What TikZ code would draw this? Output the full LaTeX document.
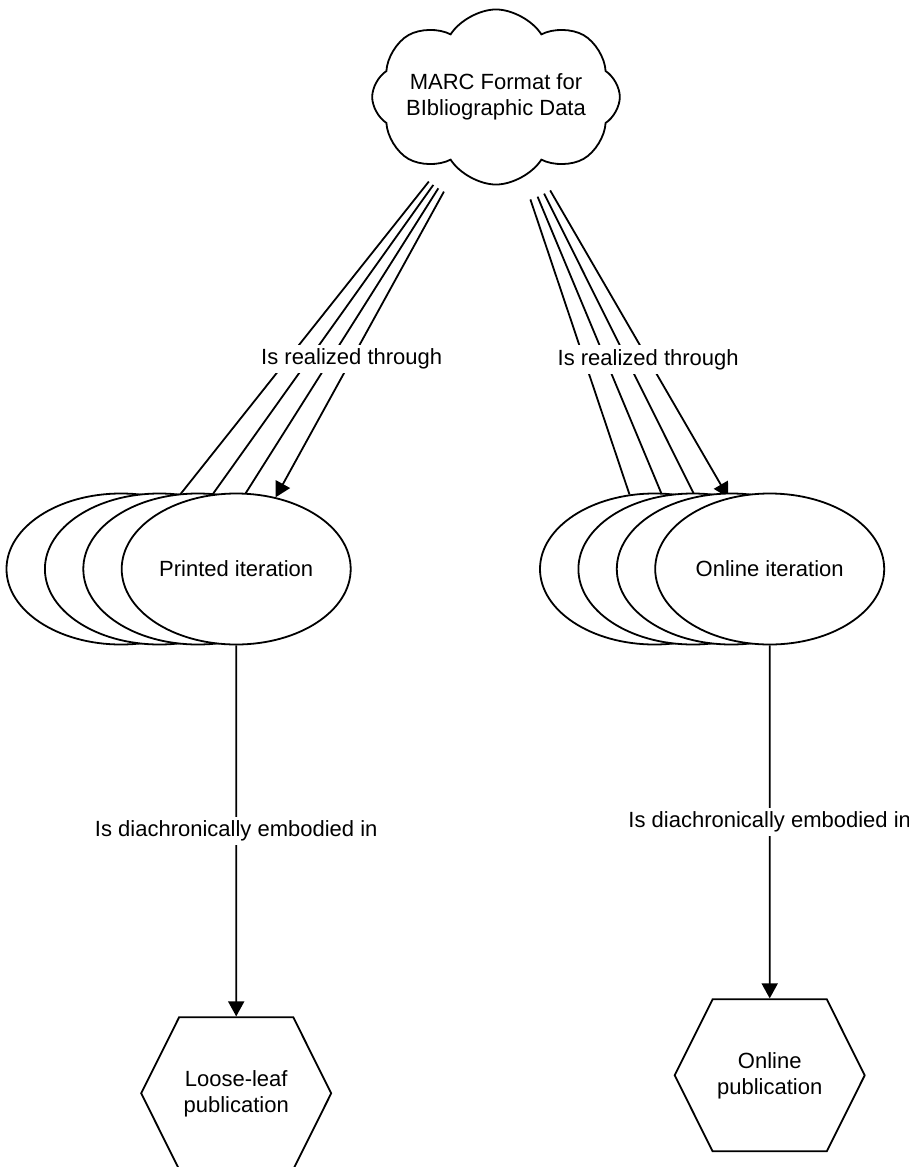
\documentclass[tikz,border=0pt]{standalone}
\usepackage{fontspec}
\setmainfont{Liberation Sans}
\usetikzlibrary{arrows.meta,positioning,shapes.geometric,shapes.symbols,backgrounds}

\begin{document}
\begin{tikzpicture}[
  x=0.5pt,y=-0.5pt,
  every node/.style={font=\fontsize{11}{13}\selectfont,align=center},
  rel/.style={line width=0.9pt,draw=black},
  arrow/.style={rel,-{Triangle[length=7.5pt,width=8pt]}},
  lbl/.style={fill=white,inner sep=2pt},
  marc/.style={cloud,cloud puffs=8,cloud puff arc=115,aspect=1.75,draw,line width=0.9pt,
               fill=white,inner sep=-3pt},
  iter/.style={ellipse,draw,line width=0.9pt,fill=white,
               minimum width=114.5pt,minimum height=75.5pt,inner sep=0pt},
  pub/.style={signal,signal to=east and west,signal pointer angle=127,draw,
              line width=0.9pt,fill=white,minimum width=95pt,minimum height=76pt,inner sep=0pt}
]
\useasboundingbox (0,0) rectangle (909,1167);

\node[marc] (marc) at (496,97) {MARC Format for\\BIbliographic Data};

% printed iterations
\node[iter] (p1) at (121,569) {};
\node[iter] (p2) at ([xshift=19.2pt]p1) {};
\node[iter] (p3) at ([xshift=19.2pt]p2) {};
\node[iter] (p4) at ([xshift=19.2pt]p3) {Printed iteration};

% online iterations
\node[iter] (o1) at (654.5,569) {};
\node[iter] (o2) at ([xshift=19.2pt]o1) {};
\node[iter] (o3) at ([xshift=19.2pt]o2) {};
\node[iter] (o4) at ([xshift=19.2pt]o3) {Online iteration};

\node[pub,below=185.5pt of p4] (loose) {Loose-leaf\\publication};
\node[pub,below=176.5pt of o4] (onpub) {Online\\publication};

\begin{scope}[on background layer]
\foreach \t in {p1,p2,p3,o1,o2,o3} { \draw[rel,shorten <=54pt] (marc.center) -- (\t); }
\draw[arrow,shorten <=54pt] (marc.center) -- node[lbl,pos=0.655]{Is realized through} (p4);
\draw[arrow,shorten <=54pt] (marc.center) -- node[lbl,pos=0.655]{Is realized through} (o4);
\end{scope}

\draw[arrow] (p4) -- node[lbl]{Is diachronically embodied in} (loose);
\draw[arrow] (o4) -- node[lbl]{Is diachronically embodied in} (onpub);

\end{tikzpicture}
\end{document}
